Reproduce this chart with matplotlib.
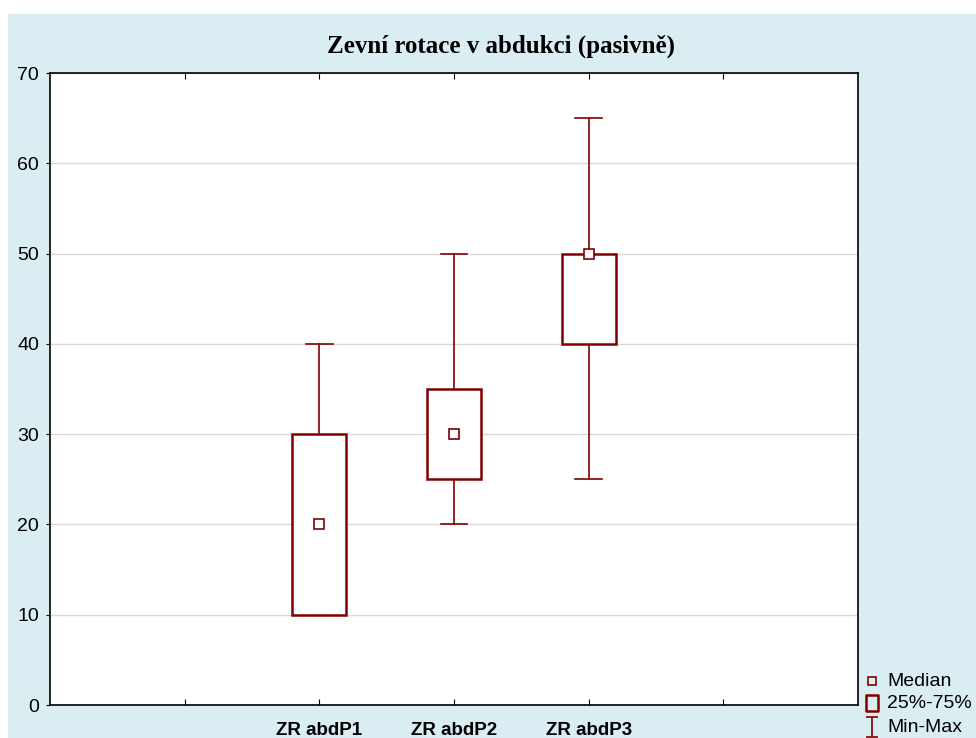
import matplotlib.pyplot as plt
from matplotlib.patches import Rectangle
from matplotlib.lines import Line2D
from matplotlib.path import Path

labels = ["ZR abdP1", "ZR abdP2", "ZR abdP3"]
pos = [2, 3, 4]
mins = [10, 20, 25]
q1 = [10, 25, 40]
medians = [20, 30, 50]
q3 = [30, 35, 50]
maxs = [40, 50, 65]

red = "#800000"
bg = "#daedf2"
W, H = 976, 738

fig = plt.figure(figsize=(9.76, 7.38), dpi=100, facecolor="white")
fig.patches.append(Rectangle((8/W, 0), 1, 1 - 14/H, transform=fig.transFigure,
                             facecolor=bg, edgecolor="none", zorder=-10))
ax = fig.add_axes([50/W, 33/H, 808/W, 632/H])
ax.set_facecolor("white")

bw = 0.4
cw = 0.2
for x, lo, a, m, b, hi in zip(pos, mins, q1, medians, q3, maxs):
    ax.plot([x, x], [b, hi], color=red, lw=1.2, zorder=2)
    ax.plot([x, x], [lo, a], color=red, lw=1.2, zorder=2)
    ax.plot([x - cw/2, x + cw/2], [hi, hi], color=red, lw=1.2, zorder=2)
    ax.plot([x - cw/2, x + cw/2], [lo, lo], color=red, lw=1.2, zorder=2)
    ax.add_patch(Rectangle((x - bw/2, a), bw, b - a, facecolor="white",
                           edgecolor=red, lw=1.8, zorder=3))
    ax.plot(x, m, marker="s", ms=7, mfc="white", mec=red, mew=1.2, zorder=4)

ax.set_xlim(0, 6)
ax.set_ylim(0, 70)
ax.set_yticks(range(0, 71, 10))
ax.set_xticks([1, 2, 3, 4, 5])
ax.set_xticklabels(["", labels[0], labels[1], labels[2], ""], fontweight="bold",
                   fontsize=13.5, family="Liberation Sans")
ax.tick_params(axis="x", direction="in", top=True, length=4, pad=12)
ax.tick_params(axis="y", direction="out", length=3, labelsize=14, pad=5)
for t in ax.get_yticklabels():
    t.set_family("Liberation Sans")
ax.grid(axis="y", color="#d9d9d9", lw=1)
ax.set_axisbelow(True)
for s in ax.spines.values():
    s.set_linewidth(1.2)

fig.text(501/W, 1 - 46/H, "Zevní rotace v abdukci (pasivně)", ha="center", va="center",
         family="Liberation Serif", fontweight="bold", fontsize=18)

# legend drawn by hand in the blue margin
rect = Path([(-0.37, 0.5), (0.37, 0.5), (0.37, -0.5), (-0.37, -0.5), (-0.37, 0.5)],
            [Path.MOVETO, Path.LINETO, Path.LINETO, Path.LINETO, Path.CLOSEPOLY])
ibeam = Path([(-0.3, 0.5), (0.3, 0.5), (0, 0.5), (0, -0.5), (-0.3, -0.5), (0.3, -0.5)],
             [Path.MOVETO, Path.LINETO, Path.MOVETO, Path.LINETO, Path.MOVETO, Path.LINETO])
items = [("Median", "s", 5.5, 1.2, 681),
         ("25%-75%", rect, 12, 1.8, 703),
         ("Min-Max", ibeam, 15, 1.2, 727)]
for txt, mk, ms, mw, yy in items:
    fig.add_artist(Line2D([872/W], [1 - yy/H], transform=fig.transFigure, ls="none",
                          marker=mk, ms=ms, mfc="none", mec=red, mew=mw))
    fig.text(887/W, 1 - yy/H, txt, ha="left", va="center", fontsize=14,
             family="Liberation Sans")

fig.savefig("out.png", dpi=100, facecolor="white")
